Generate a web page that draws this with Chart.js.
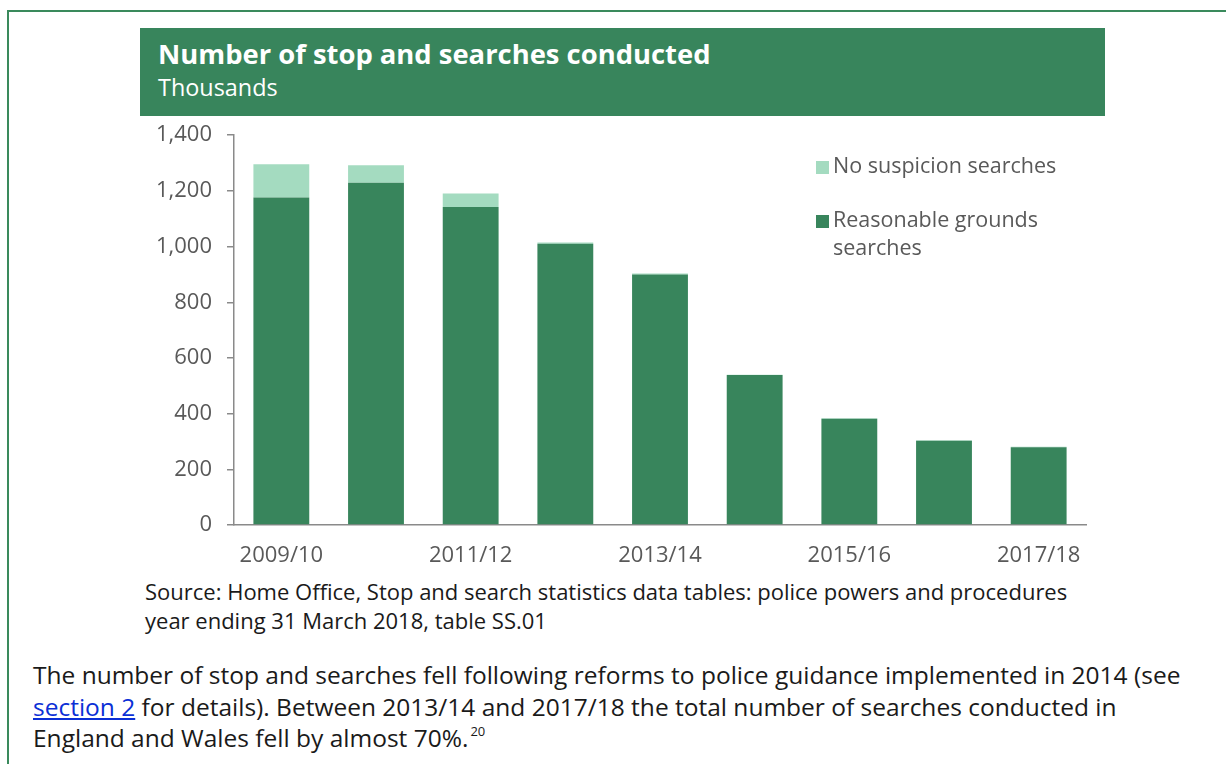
<!DOCTYPE html>
<html>
<head>
<meta charset="utf-8">
<script src="https://cdn.jsdelivr.net/npm/chart.js@4/dist/chart.umd.min.js"></script>
<style>
  html, body { margin: 0; padding: 0; background: #fff; }
  body { width: 1226px; height: 764px; position: relative; overflow: hidden; font-family: "Open Sans", "Noto Sans", sans-serif; }
  .frame { position: absolute; left: 7px; top: 10px; right: -10px; height: 800px; border-left: 2px solid #3a8a5c; border-top: 2px solid #3a8a5c; }
  .head { position: absolute; left: 140px; top: 28px; width: 965px; height: 88px; background: #38855c; color: #fff; }
  .head .t { position: absolute; left: 18px; top: 7px; font-size: 27.4px; font-weight: 700; white-space: nowrap; }
  .head .s { position: absolute; left: 18px; top: 43px; font-size: 23.4px; white-space: nowrap; }
  #chart { position: absolute; left: 140px; top: 107px; }
  .src { position: absolute; left: 145px; top: 577px; font-size: 22px; line-height: 29px; color: #1a1a1a; white-space: nowrap; }
  .para { position: absolute; left: 33px; top: 659px; font-size: 24.5px; line-height: 31.5px; color: #1a1a1a; white-space: nowrap; }
  .para a { color: #0b2fd6; text-decoration: underline; }
  .para sup { font-size: 13px; vertical-align: 11px; line-height: 0; margin-left: 2px; }
</style>
</head>
<body>
<div class="frame"></div>
<div class="head">
  <div class="t">Number of stop and searches conducted</div>
  <div class="s">Thousands</div>
</div>
<canvas id="chart" width="965" height="468"></canvas>
<div class="src">Source: Home Office, Stop and search statistics data tables: police powers and procedures<br>year ending 31 March 2018, table SS.01</div>
<div class="para">The number of stop and searches fell following reforms to police guidance implemented in 2014 (see<br><a href="#">section 2</a> for details). Between 2013/14 and 2017/18 the total number of searches conducted in<br>England and Wales fell by almost 70%.<sup>20</sup></div>
<script>
// financial years, thousands of searches
const years = ['2009/10', '2010/11', '2011/12', '2012/13', '2013/14', '2014/15', '2015/16', '2016/17', '2017/18'];
const reasonableGrounds = [1176, 1229, 1142, 1010, 900, 539, 382, 303, 279];
const noSuspicion = [120, 63, 49, 5, 3, 1, 1, 1, 2];
const yTicks = [0, 200, 400, 600, 800, 1000, 1200, 1400];

const darkGreen = '#38855c';
const lightGreen = '#a4dbc0';
const axisGrey = '#8a8a8a';
const textGrey = '#595959';
const fontFamily = '"Open Sans", "Noto Sans", sans-serif';

// legend drawn by hand so the long label can wrap onto two lines
const wrapLegend = {
    id: 'wrapLegend',
    afterDraw(chart) {
        const ctx = chart.ctx;
        const items = chart.data.datasets.slice().reverse();
        ctx.save();
        ctx.font = '21.5px ' + fontFamily;
        ctx.textBaseline = 'middle';
        let y = 60;
        items.forEach(ds => {
            ctx.fillStyle = ds.backgroundColor;
            ctx.fillRect(676, y - 6, 13, 13);
            ctx.fillStyle = textGrey;
            // simple word wrap
            const words = ds.label.split(' ');
            let line = '';
            const lines = [];
            words.forEach(w => {
                const test = line ? line + ' ' + w : w;
                if (ctx.measureText(test).width > 240 && line) {
                    lines.push(line);
                    line = w;
                } else {
                    line = test;
                }
            });
            lines.push(line);
            lines.forEach((l, i) => ctx.fillText(l, 693, y + i * 28));
            y += 54;
        });
        ctx.restore();
    }
};

new Chart(document.getElementById('chart'), {
    type: 'bar',
    data: {
        labels: years,
        datasets: [{
            label: 'Reasonable grounds searches',
            data: reasonableGrounds,
            backgroundColor: darkGreen,
            barPercentage: 0.59,
            categoryPercentage: 1
        }, {
            label: 'No suspicion searches',
            data: noSuspicion,
            backgroundColor: lightGreen,
            barPercentage: 0.59,
            categoryPercentage: 1
        }]
    },
    options: {
        responsive: false,
        animation: false,
        layout: { padding: { top: 0, right: 19, left: 0, bottom: 0 } },
        plugins: {
            legend: { display: false },
            tooltip: { enabled: false }
        },
        scales: {
            x: {
                stacked: true,
                grid: { display: false },
                border: { display: true, color: axisGrey, width: 1.5 },
                ticks: {
                    autoSkip: false,
                    maxRotation: 0,
                    padding: 10,
                    color: textGrey,
                    font: { family: fontFamily, size: 22 },
                    callback: (v, i) => (i % 2 === 0 ? years[i] : '')
                },
                afterFit: scale => { scale.height = 50; }
            },
            y: {
                stacked: true,
                min: 0,
                max: 1400,
                afterBuildTicks: scale => { scale.ticks = yTicks.map(v => ({ value: v })); },
                grid: { drawOnChartArea: false, drawTicks: true, tickLength: 7, color: axisGrey, lineWidth: 1.5 },
                border: { display: true, color: axisGrey, width: 1.5 },
                ticks: {
                    padding: 15,
                    color: textGrey,
                    font: { family: fontFamily, size: 22 },
                    callback: v => v.toLocaleString('en-GB')
                },
                afterFit: scale => { scale.width = 94; }
            }
        }
    },
    plugins: [wrapLegend]
});
</script>
</body>
</html>
